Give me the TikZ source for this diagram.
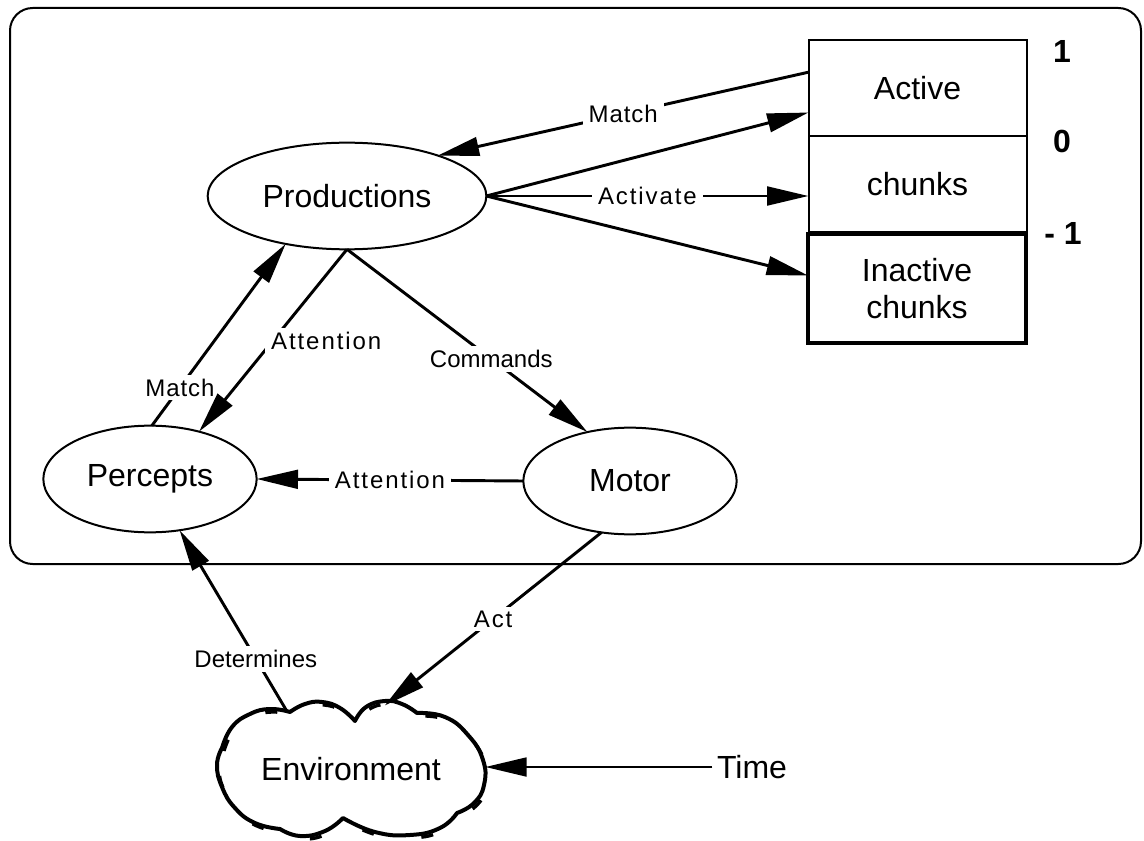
\documentclass[tikz,border=0pt]{standalone}
\usepackage{fontspec}
\setmainfont{Liberation Sans}
\newfontfamily\spaced{Liberation Sans}[LetterSpace=8]
\newfontfamily\spacedlight{Liberation Sans}[LetterSpace=4]
\usetikzlibrary{arrows.meta,shapes.geometric,calc}
\def\cloudpath{plot[smooth,tension=0.8] coordinates {(222,748) (232,727) (250,714) (270,709) (290,712)}
 -- plot[smooth,tension=0.8] coordinates {(290,712) (305,704) (322,702) (340,708) (355,721)}
 -- plot[smooth,tension=0.8] coordinates {(355,721) (366,707) (385,701) (402,704) (417,713)}
 -- plot[smooth,tension=0.8] coordinates {(417,713) (445,717) (468,735) (483,760) (484,785) (474,803) (457,813)}
 -- plot[smooth,tension=0.8] coordinates {(457,813) (440,828) (410,835) (375,832) (343,818)}
 -- plot[smooth,tension=0.8] coordinates {(343,818) (325,831) (300,836) (280,829)}
 -- plot[smooth,tension=0.8] coordinates {(280,829) (255,823) (235,808) (222,787) (217,765) (222,748)} -- cycle}
\begin{document}
\begin{tikzpicture}[x=0.75pt,y=-0.75pt,
  conn/.style={line width=2.2pt,-{Triangle[length=31pt,width=14pt]}},
  oval/.style={ellipse,draw,line width=1.5pt,font=\fontsize{24}{28}\selectfont,inner sep=0,outer sep=0},
  cell/.style={rectangle,draw,line width=1.5pt,minimum width=163.5pt,inner sep=0,outer sep=0,font=\fontsize{24}{28}\selectfont,align=center},
  lbl/.style={fill=white,inner xsep=4.5pt,inner ysep=3pt,font=\fontsize{18}{20}\selectfont},
  num/.style={font=\fontsize{24}{28}\selectfont\bfseries}]
\useasboundingbox (0,0) rectangle (1144,841);
% outer frame
\draw[line width=1.5pt,rounded corners=17pt] (10,8) rectangle (1141,564);
% chunk boxes
\node[cell,minimum height=72pt] (act) at (917.5,88.5) {Active};
\node[cell,minimum height=72pt] (chk) at (917.5,184.5) {chunks};
\node[cell,minimum height=81.75pt,line width=3pt] (inact) at (917,288.5) {Inactive\\chunks};
\node[num] (n1) at (1062,51) {1};
\node[num] (n0) at (1062,141) {0};
\node[num] (nm1) at (1063,233) {- 1};
% ellipses
\node[oval,minimum width=209pt,minimum height=80pt] (prod) at (347,196) {Productions};
\node[oval,minimum width=160pt,minimum height=80pt] (perc) at (150,479) {Percepts};
\node[oval,minimum width=160pt,minimum height=80pt] (motor) at (630,481) {Motor};
% environment cloud
\draw[line width=3pt,line join=round,fill=white] \cloudpath;
\draw[line width=2.5pt,dash pattern=on 9pt off 36pt,shift={(2,3)}] \cloudpath;
\node[ellipse,inner sep=0,minimum width=201pt,minimum height=98pt,
      font=\fontsize{24}{28}\selectfont] (env) at (351,769) {Environment};
\node[font=\fontsize{24}{28}\selectfont] (time) at (752,767) {Time};
% connectors
\draw[conn] ($(act.north west)!0.33!(act.south west)$) -- node[lbl,font=\fontsize{18}{20}\spacedlight]{Match} (prod.24);
\draw[conn] (prod.east) -- ($(act.south west)!0.25!(act.north west)$);
\draw[conn] (prod.east) -- node[lbl,font=\fontsize{18}{20}\spaced]{Activate} (prod.east -| chk.west);
\draw[conn] (prod.east) -- ($(inact.west)+(0,-13)$);
\draw[conn] (perc.88) -- node[lbl,pos=0.21,font=\fontsize{18}{20}\spacedlight]{Match} (prod.218);
\draw[conn] (prod.south) -- node[lbl,anchor=west,xshift=-7pt,font=\fontsize{18}{20}\spaced]{Attention} (perc.44);
\draw[conn] (prod.south) -- node[lbl,pos=0.6]{Commands} (motor.131);
\draw[conn] (motor.west) -- node[lbl,font=\fontsize{18}{20}\spaced]{Attention} (perc.east);
\draw[conn] (env.138) -- node[lbl,pos=0.29]{Determines} (perc.300);
\draw[conn] (motor.241) -- node[lbl,font=\fontsize{18}{20}\spaced]{Act} (env.62);
\draw[conn] (time.west) -- (time.west -| env.east);
\end{tikzpicture}
\end{document}
